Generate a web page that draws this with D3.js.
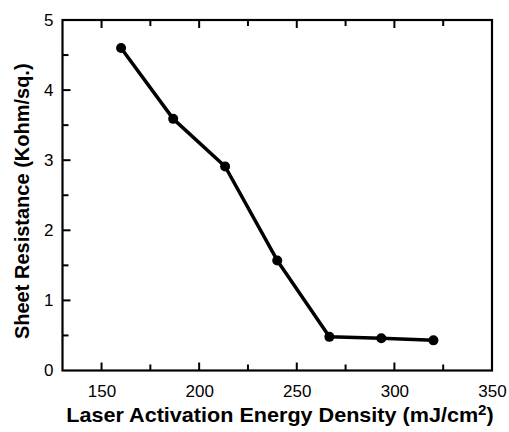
<!DOCTYPE html>
<html>
<head>
<meta charset="utf-8">
<script src="https://cdn.jsdelivr.net/npm/d3@7"></script>
<style>
body { margin: 0; background: #fff; }
svg { display: block; font-family: "Liberation Sans", Arial, sans-serif; }
</style>
</head>
<body>
<div id="chart"></div>
<script>
// data
var energy = [160, 186.7, 213.3, 240, 266.7, 293.3, 320];
var resistance = [4.60, 3.59, 2.91, 1.57, 0.48, 0.46, 0.43];
var xTicks = [150, 200, 250, 300, 350];
var xMinor = [175, 225, 275, 325];
var yTicks = [0, 1, 2, 3, 4, 5];
var yMinor = [0.5, 1.5, 2.5, 3.5, 4.5];

var width = 509, height = 432;
var plotLeft = 62.5, plotRight = 492, plotTop = 20, plotBottom = 370.5;

var svg = d3.select("#chart").append("svg")
	.attr("width", width)
	.attr("height", height);

var xScale = d3.scaleLinear().domain([130, 350]).range([plotLeft, plotRight]);
var yScale = d3.scaleLinear().domain([0, 5]).range([plotBottom, plotTop]);

// tick labels from the axes, tick marks drawn by hand (inward)
var xAxis = d3.axisBottom(xScale).tickValues(xTicks).tickSize(0).tickPadding(14)
	.tickFormat(d3.format('d'));
var gx = svg.append('g')
	.attr('transform', 'translate(0,' + plotBottom + ')')
	.call(xAxis);
gx.select('.domain').remove();
gx.selectAll('text').attr('font-size', 17).attr('fill', '#000').attr('font-family', null);

var yAxis = d3.axisLeft(yScale).tickValues(yTicks).tickSize(0).tickPadding(9)
	.tickFormat(d3.format('d'));
var gy = svg.append('g')
	.attr('transform', 'translate(' + plotLeft + ',0)')
	.call(yAxis);
gy.select('.domain').remove();
gy.selectAll('text').attr('font-size', 17).attr('fill', '#000').attr('font-family', null);

var tickG = svg.append('g').attr('stroke', '#000').attr('stroke-width', 2);
xTicks.concat(xMinor).forEach(function(v){
	if (v >= 350) return;
	var len = xTicks.indexOf(v) >= 0 ? 8 : 6;
	tickG.append('line').attr('x1', xScale(v)).attr('x2', xScale(v))
		.attr('y1', plotBottom).attr('y2', plotBottom - len);
	tickG.append('line').attr('x1', xScale(v)).attr('x2', xScale(v))
		.attr('y1', plotTop).attr('y2', plotTop + len);
});
yTicks.concat(yMinor).forEach(function(v){
	if (v <= 0 || v >= 5) return;
	var len = yTicks.indexOf(v) >= 0 ? 8 : 6;
	tickG.append('line').attr('x1', plotLeft).attr('x2', plotLeft + len)
		.attr('y1', yScale(v)).attr('y2', yScale(v));
});

// frame
svg.append('rect')
	.attr('x', plotLeft).attr('y', plotTop)
	.attr('width', plotRight - plotLeft).attr('height', plotBottom - plotTop)
	.attr('fill', 'none').attr('stroke', '#000').attr('stroke-width', 2.2);

var pts = energy.map(function(e, i){ return {x: e, y: resistance[i]}; });

var line = d3.line().x(d => xScale(d.x)).y(d => yScale(d.y));
svg.append('path')
	.datum(pts)
	.attr('d', line)
	.attr('fill', 'none')
	.attr('stroke', '#000')
	.attr('stroke-width', 3.5)
	.attr('stroke-linejoin', 'round');

svg.selectAll('.dot')
	.data(pts)
	.enter()
	.append('circle')
	.classed('dot', true)
	.attr('cx', d => xScale(d.x))
	.attr('cy', d => yScale(d.y))
	.attr('r', 5)
	.attr('fill', '#000');

// axis titles (the original lettering is a bit wider than Liberation Sans)
var xt = svg.append('text')
	.attr('transform', 'translate(280,422) scale(1.08,1)')
	.attr('text-anchor', 'middle')
	.attr('font-size', 20)
	.attr('font-weight', 'bold');
xt.append('tspan').text('Laser Activation Energy Density (mJ/cm');
xt.append('tspan').attr('dy', -7).attr('font-size', 14).text('2');
xt.append('tspan').attr('dy', 7).text(')');

svg.append('text')
	.attr('transform', 'translate(29,' + ((plotTop + plotBottom) / 2 + 6) + ') rotate(-90)')
	.attr('text-anchor', 'middle')
	.attr('font-size', 20)
	.attr('font-weight', 'bold')
	.text('Sheet Resistance (Kohm/sq.)');
</script>
</body>
</html>
